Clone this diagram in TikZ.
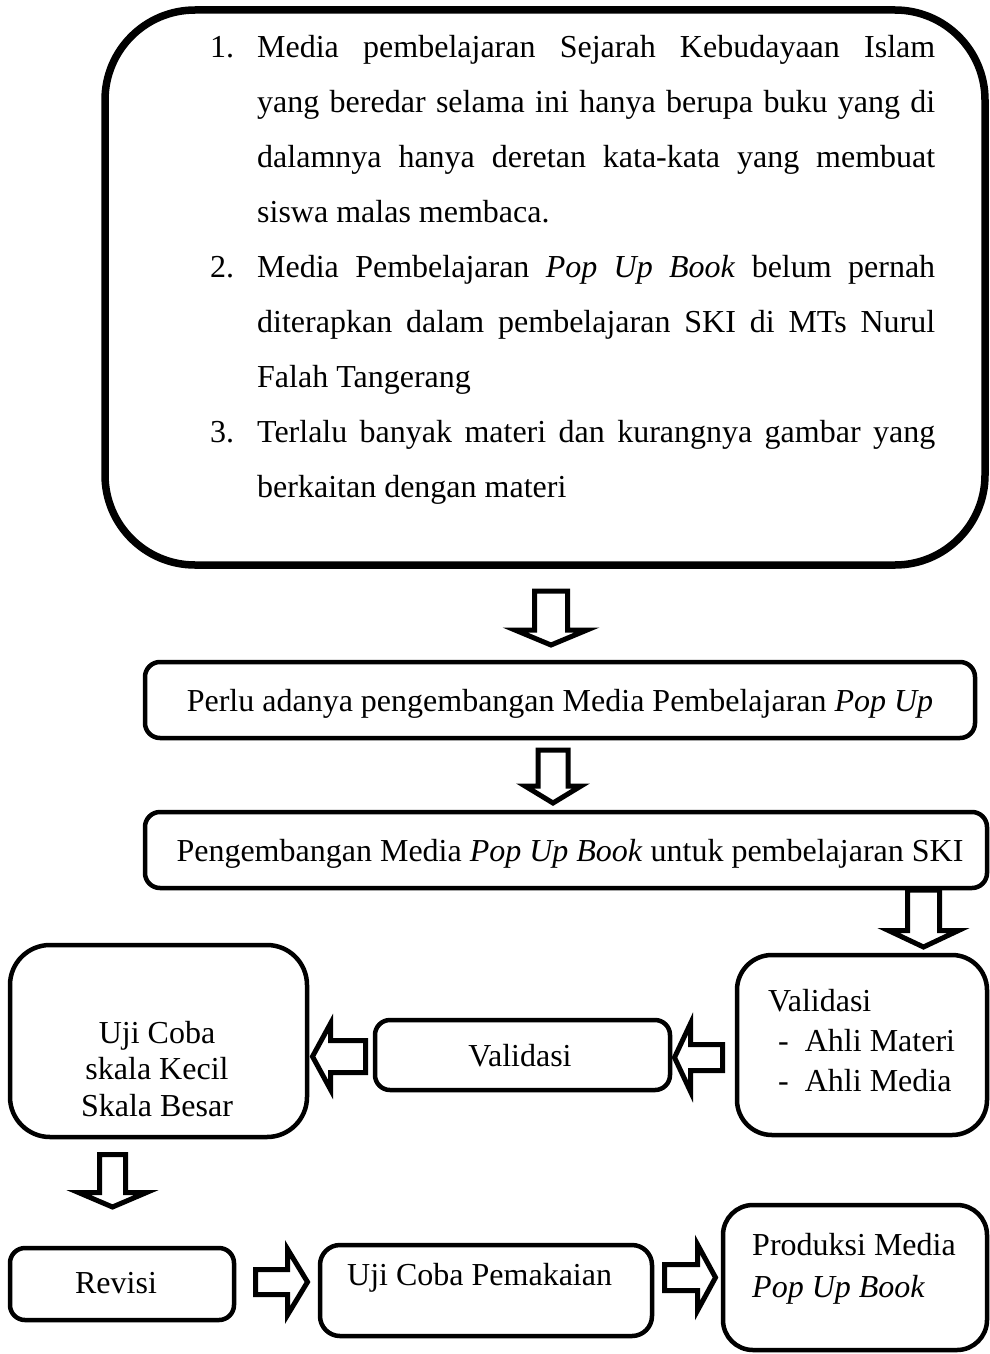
\documentclass[tikz,border=0pt]{standalone}
\usepackage{fontspec}
\setmainfont{Liberation Serif}
\newcommand{\txtA}{\fontsize{32}{55}\selectfont}
\newcommand{\arrdown}[5]{\draw[blk] (#1) ++({-(#2)},0) -- ++(0,{#3}) -- ++({(#2)-(#4)},0) -- ++({#4},{#5}) -- ++({#4},{-(#5)}) -- ++({(#2)-(#4)},0) -- ++(0,{-(#3)}) -- cycle;}
\newcommand{\arrhoriz}[5]{\draw[blk] (#1) ++(0,{-(#2)}) -- ++({#3},0) -- ++(0,{(#2)-(#4)}) -- ++({#5},{#4}) -- ++({-(#5)},{#4}) -- ++(0,{(#2)-(#4)}) -- ++({-(#3)},0) -- cycle;}
\begin{document}
\begin{tikzpicture}[x=1pt,y=-1pt,
  box/.style={draw, line width=4.5pt, rounded corners=#1, inner sep=0pt, outer sep=0pt},
  blk/.style={draw, fill=white, line width=5pt, line join=miter},
  lbl/.style={inner sep=0pt, font=\fontsize{32}{38}\selectfont}]
\useasboundingbox (0,0) rectangle (990,1354);
% boxes
\node[box=90pt, line width=7.5pt, minimum width=880pt, minimum height=555pt] (b1) at (545,287.5) {};
\node[box=15pt, minimum width=830pt, minimum height=76pt] (b2) at (560,700) {};
\node[box=15pt, minimum width=842pt, minimum height=76pt] (b3) at (566,850) {};
\node[box=35pt, minimum width=250pt, minimum height=180pt] (b4) at (862,1045) {};
\node[box=15pt, minimum width=295pt, minimum height=70pt] (b5) at (522.5,1055) {};
\node[box=40pt, minimum width=297pt, minimum height=192pt] (b6) at (158.5,1041) {};
\node[box=15pt, minimum width=224pt, minimum height=72pt] (b7) at (122,1284) {};
\node[box=20pt, minimum width=332pt, minimum height=91pt] (b8) at (486,1290.5) {};
\node[box=30pt, minimum width=264pt, minimum height=145pt] (b9) at (855,1277.5) {};
% texts
\node[anchor=north west, inner sep=0pt, align=left, font=\txtA] (t1) at (210,35) {%
\makebox[47pt][l]{1.}\makebox[678pt][s]{Media pembelajaran Sejarah Kebudayaan Islam}\\
\hspace*{47pt}\makebox[678pt][s]{yang beredar selama ini hanya berupa buku yang di}\\
\hspace*{47pt}\makebox[678pt][s]{dalamnya hanya deretan kata-kata yang membuat}\\
\hspace*{47pt}siswa malas membaca.\\
\makebox[47pt][l]{2.}\makebox[678pt][s]{Media Pembelajaran \textit{Pop Up Book} belum pernah}\\
\hspace*{47pt}\makebox[678pt][s]{diterapkan dalam pembelajaran SKI di MTs Nurul}\\
\hspace*{47pt}Falah Tangerang\\
\makebox[47pt][l]{3.}\makebox[678pt][s]{Terlalu banyak materi dan kurangnya gambar yang}\\
\hspace*{47pt}berkaitan dengan materi};
\node[lbl, anchor=base] (t2) at (560,711) {Perlu adanya pengembangan Media Pembelajaran \textit{Pop Up}};
\node[lbl, anchor=base] (t3) at (570,861) {Pengembangan Media \textit{Pop Up Book} untuk pembelajaran SKI};
\node[lbl, anchor=base west] (t4) at (768,1011) {Validasi};
\node[lbl, anchor=base west] (t4a) at (778,1051) {-\ \ Ahli Materi};
\node[lbl, anchor=base west] (t4b) at (778,1091) {-\ \ Ahli Media};
\node[lbl, anchor=base] (t5) at (520,1066) {Validasi};
\node[lbl, anchor=base] (t6) at (157,1043) {Uji Coba};
\node[lbl, anchor=base] (t6a) at (157,1079) {skala Kecil};
\node[lbl, anchor=base] (t6b) at (157,1116) {Skala Besar};
\node[lbl, anchor=base] (t7) at (116,1293) {Revisi};
\node[lbl, anchor=base west] (t8) at (347,1285) {Uji Coba Pemakaian};
\node[lbl, anchor=base west] (t9) at (752,1255) {Produksi Media};
\node[lbl, anchor=base west] (t9a) at (752,1297) {\textit{Pop Up Book}};
% arrow tails
\coordinate (a1) at (551,591);
\coordinate (a2) at (553,750);
\coordinate (a3) at (923.5,890);
\coordinate (a4) at (112.5,1154.5);
\coordinate (a5) at (722.5,1057.5);
\coordinate (a6) at (365.5,1056.5);
\coordinate (a7) at (255.5,1282);
\coordinate (a8) at (664.5,1277.5);
\arrdown{a1}{16.5}{39}{36}{15}
\arrdown{a2}{15}{36}{28}{17}
\arrdown{a3}{16}{40.5}{35}{16.5}
\arrdown{a4}{13}{38}{34}{14.5}
\arrhoriz{a5}{13}{-32}{34}{-16}
\arrhoriz{a6}{16}{-35}{33}{-18}
\arrhoriz{a7}{12.5}{32}{33}{20}
\arrhoriz{a8}{13}{33}{33}{18}
\end{tikzpicture}
\end{document}
